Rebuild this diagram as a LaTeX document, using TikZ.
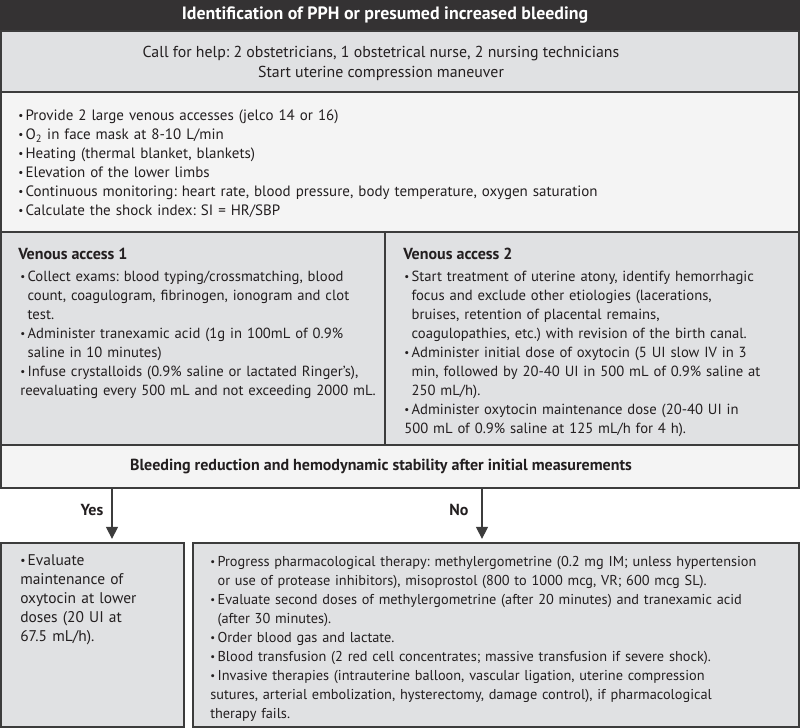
\documentclass[tikz,border=0pt]{standalone}
\usepackage{fontspec}
\setmainfont{PT Sans}
\usetikzlibrary{arrows.meta,fit}

\definecolor{barcol}{RGB}{52,50,51}
\definecolor{boxgray}{RGB}{224,225,227}
\definecolor{boxlight}{RGB}{244,244,244}
\definecolor{edgecol}{RGB}{60,60,60}
\definecolor{inkcol}{RGB}{35,31,32}

% bullet with hanging indent
\newcommand{\itm}{\par\hangindent=5.5pt\hangafter=1\noindent\makebox[5.5pt][l]{\raisebox{0.12ex}{\scalebox{0.75}{\textbullet}}}}
\newcommand{\topsize}{\fontsize{11.25}{14.25}\selectfont\frenchspacing}
\newcommand{\helpsize}{\fontsize{11.9}{15}\selectfont\frenchspacing}
\newcommand{\midsize}{\fontsize{11}{14.25}\selectfont\frenchspacing}
\newcommand{\lowsize}{\fontsize{10.75}{14.25}\selectfont\frenchspacing}
\newcommand{\yessize}{\fontsize{11.6}{14.25}\selectfont\frenchspacing}
\newcommand{\headsize}{\fontsize{12}{14.25}\selectfont\bfseries}

\tikzset{
  panel/.style={draw=edgecol, line width=1.2pt, inner sep=0pt},
  blurb/.style={anchor=north west, align=left, inner sep=0pt, text=inkcol},
  arr/.style={-{Triangle[length=9pt,width=9pt]}, line width=0.9pt, draw=edgecol, shorten >=2.5pt},
}

\begin{document}
\begin{tikzpicture}[x=0.75pt,y=0.75pt,yscale=-1,xscale=1,font=\topsize]
\useasboundingbox (0,0) rectangle (800,728);

%Shape: Rectangle
\node[fit={(0,0) (800,31)}, inner sep=0pt, fill=barcol] (bar) {};
\node[panel, fit={(1,31) (799,92)}, fill=boxgray] (help) {};
\node[panel, fit={(1,92) (799,232)}, fill=boxlight] (first) {};
\node[panel, fit={(1,232) (385,445)}, fill=boxgray] (va1) {};
\node[panel, fit={(385,232) (799,445)}, fill=boxgray] (va2) {};
\node[panel, fit={(1,445) (799,488)}, fill=boxlight] (bleed) {};
\node[panel, fit={(1,543) (184,727)}, fill=boxgray] (yesbox) {};
\node[panel, fit={(193,543) (799,727)}, fill=boxgray] (nobox) {};

% Text Node
\node[text=white, inner sep=0pt, font=\fontsize{13.4}{15}\selectfont\bfseries] (ttl) at (385,15.5) {Identification of PPH or presumed increased bleeding};
% Text Node
\node[align=center, inner sep=0pt, text=inkcol, font=\helpsize] (helptxt) at (381,63.5) {Call for help: 2 obstetricians, 1 obstetrical nurse, 2 nursing technicians\\[-0.5pt]Start uterine compression maneuver};
% Text Node
\node[blurb, text width=590pt] (firsttxt) at (18,101.5) {%
\itm Provide 2 large venous accesses (jelco 14 or 16)
\itm O\textsubscript{2} in face mask at 8-10 L/min
\itm Heating (thermal blanket, blankets)
\itm Elevation of the lower limbs
\itm Continuous monitoring: heart rate, blood pressure, body temperature, oxygen saturation
\itm Calculate the shock index: SI = HR/SBP};

% Text Node
\node[blurb, font=\headsize] (va1head) at (18,248) {Venous access 1};
\node[blurb, text width=330pt, font=\midsize] (va1txt) at (20,262.5) {%
\itm Collect exams: blood typing/crossmatching, blood\newline count, coagulogram, fibrinogen, ionogram and clot\newline test.
\itm Administer tranexamic acid (1g in 100mL of 0.9\%\newline saline in 10 minutes)
\itm Infuse crystalloids (0.9\% saline or lactated Ringer’s),\newline reevaluating every 500 mL and not exceeding 2000 mL.};

% Text Node
\node[blurb, font=\headsize] (va2head) at (403,248) {Venous access 2};
\node[blurb, text width=330pt, font=\midsize] (va2txt) at (404,262) {%
\itm Start treatment of uterine atony, identify hemorrhagic\newline focus and exclude other etiologies (lacerations,\newline bruises, retention of placental remains,\newline coagulopathies, etc.) with revision of the birth canal.
\itm Administer initial dose of oxytocin (5 UI slow IV in 3\newline min, followed by 20-40 UI in 500 mL of 0.9\% saline at\newline 250 mL/h).
\itm Administer oxytocin maintenance dose (20-40 UI in\newline 500 mL of 0.9\% saline at 125 mL/h for 4 h).};

% Text Node
\node[inner sep=0pt, text=inkcol, font=\headsize] (bleedtxt) at (381,467) {Bleeding reduction and hemodynamic stability after initial measurements};

%Straight Lines
\coordinate (yx) at (112,0);
\coordinate (nx) at (482,0);
\draw[arr] (bleed.south -| yx) -- (yesbox.north -| yx);
\draw[arr] (bleed.south -| nx) -- (nobox.north -| nx);
% Text Node
\node[inner sep=0pt, text=inkcol, font=\headsize] (yeslbl) at (92,510) {Yes};
\node[inner sep=0pt, text=inkcol, font=\headsize] (nolbl) at (459,510) {No};

% Text Node
\node[blurb, text width=160pt, font=\yessize] (yestxt) at (20,546.5) {%
\itm Evaluate\newline maintenance of\newline oxytocin at lower\newline doses (20 UI at\newline 67.5 mL/h).};
% Text Node
\node[blurb, text width=470pt, font=\lowsize] (notxt) at (210,547) {%
\itm Progress pharmacological therapy: methylergometrine (0.2 mg IM; unless hypertension\newline or use of protease inhibitors), misoprostol (800 to 1000 mcg, VR; 600 mcg SL).
\itm Evaluate second doses of methylergometrine (after 20 minutes) and tranexamic acid\newline (after 30 minutes).
\itm Order blood gas and lactate.
\itm Blood transfusion (2 red cell concentrates; massive transfusion if severe shock).
\itm Invasive therapies (intrauterine balloon, vascular ligation, uterine compression\newline sutures, arterial embolization, hysterectomy, damage control), if pharmacological\newline therapy fails.};

\end{tikzpicture}
\end{document}
